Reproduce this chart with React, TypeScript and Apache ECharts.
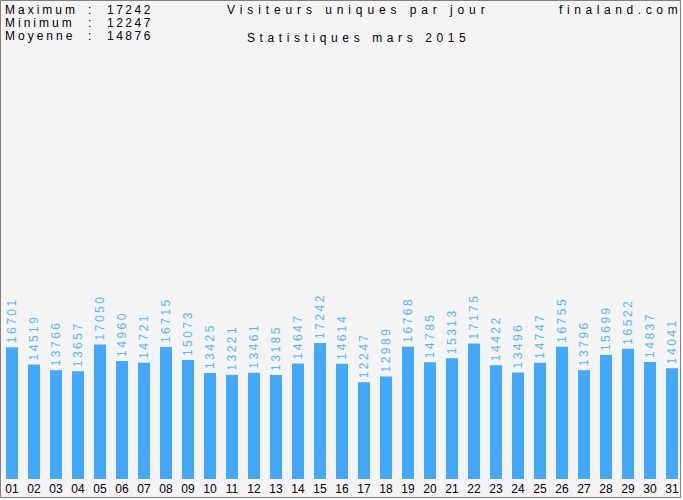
import React, { useEffect, useRef } from "react";
import * as echarts from "echarts";

const days = ["01","02","03","04","05","06","07","08","09","10","11","12","13","14","15","16","17","18","19","20","21","22","23","24","25","26","27","28","29","30","31"];
const visitors = [16701,14519,13766,13657,17050,14960,14721,16715,15073,13425,13221,13461,13185,14647,17242,14614,12247,12989,16768,14785,15313,17175,14422,13496,14747,16755,13796,15699,16522,14837,14041];
const statLabels = ["Maximum", "Minimum", "Moyenne"];
const statValues = ["17242", "12247", "14876"];
const title1 = "Visiteurs uniques par jour";
const title2 = "Statistiques mars 2015";
const site = "finaland.com";

const BAR = "#42a9fd";
const BARLABEL = "#5fb4f4";
const FONT = "'Liberation Sans', Arial, sans-serif";

export default function App() {
  const ref = useRef<HTMLDivElement>(null);
  useEffect(() => {
    document.body.style.margin = "0";
    const chart = echarts.init(ref.current!, null, { renderer: "svg" });
    const texts: any[] = [];
    statLabels.forEach((l, i) => {
      texts.push({ type: "text", x: 5, y: 4 + i * 13, style: { text: l, fill: "#010101", font: `12px ${FONT}`, textVerticalAlign: "top" } });
      texts.push({ type: "text", x: 88, y: 4 + i * 13, style: { text: ":", fill: "#010101", font: `12px ${FONT}`, textVerticalAlign: "top" } });
      texts.push({ type: "text", x: 107, y: 4 + i * 13, style: { text: statValues[i], fill: "#030303", font: `12px ${FONT}`, textVerticalAlign: "top" } });
    });
    texts.push({ type: "text", x: 227, y: 4, style: { text: title1, fill: "#040404", font: `12px ${FONT}`, textVerticalAlign: "top" } });
    texts.push({ type: "text", x: 247, y: 32, style: { text: title2, fill: "#020202", font: `12px ${FONT}`, textVerticalAlign: "top" } });
    texts.push({ type: "text", x: 559, y: 4, style: { text: site, fill: "#020202", font: `12px ${FONT}`, textVerticalAlign: "top" } });
    chart.setOption({
      animation: false,
      backgroundColor: "#ffffff",
      graphic: [
        { type: "rect", z: -10, silent: true, shape: { x: 0.5, y: 0.5, width: 680, height: 497 }, style: { fill: "#f4f4f4", stroke: "#808080", lineWidth: 1 } },
        ...texts,
      ],
      grid: { left: 1, right: 0, top: 45, bottom: 21, containLabel: false },
      xAxis: {
        type: "category",
        data: days,
        axisLine: { show: false },
        axisTick: { show: false },
        axisLabel: { color: "#000", fontSize: 12, fontFamily: FONT, margin: 4, interval: 0 },
      },
      yAxis: { type: "value", min: 0, max: 55000, show: false, splitLine: { show: false } },
      series: [
        {
          type: "bar",
          data: visitors,
          barWidth: 12,
          itemStyle: { color: BAR },
          label: {
            show: true,
            position: "top",
            rotate: 90,
            align: "left",
            verticalAlign: "middle",
            distance: 4,
            color: BARLABEL,
            fontSize: 12,
            fontFamily: FONT,
          },
        },
      ],
    });
    return () => chart.dispose();
  }, []);
  return (
    <>
      <style>{`
        #chartbox text[fill="#010101"] { letter-spacing: 3px; }
        #chartbox text[fill="#030303"] { letter-spacing: 2.5px; }
        #chartbox text[fill="#020202"] { letter-spacing: 4.6px; }
        #chartbox text[fill="#040404"] { letter-spacing: 4.9px; }
        #chartbox text[fill="${BARLABEL}"] { letter-spacing: 2.5px; }
      `}</style>
      <div id="chartbox" ref={ref} style={{ width: 683, height: 500 }} />
    </>
  );
}
